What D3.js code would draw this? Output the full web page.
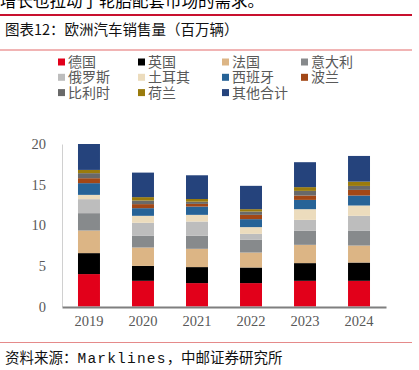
<!DOCTYPE html>
<html><head><meta charset="utf-8">
<script src="https://cdn.jsdelivr.net/npm/d3@7"></script>
<style>
html,body{margin:0;padding:0;background:#fff;}
svg{display:block;}
</style></head>
<body>
<svg id="c" width="419" height="370"></svg>
<script>
const years = ["2019","2020","2021","2022","2023","2024"];
const seriesNames = ["德国","英国","法国","意大利","俄罗斯","土耳其","西班牙","波兰","比利时","荷兰","其他合计"];
const seriesColors = ["#e2001a","#000000","#dcb585","#878a8c","#bdbdbd","#ecdcbd","#276397","#a24716","#696969","#9a7b0c","#25437c"];
const germany = [3.99, 3.16, 2.88, 2.88, 3.16, 3.16];
const uk      = [2.58, 1.84, 1.97, 1.92, 2.18, 2.25];
const france  = [2.78, 2.26, 2.25, 1.84, 2.25, 2.09];
const italy   = [2.14, 1.47, 1.60, 1.56, 1.72, 1.85];
const russia  = [1.72, 1.57, 1.76, 0.74, 1.35, 1.81];
const turkey  = [0.53, 0.86, 0.82, 0.83, 1.32, 1.27];
const spain   = [1.44, 0.94, 1.02, 0.98, 1.14, 1.23];
const poland  = [0.61, 0.50, 0.33, 0.53, 0.54, 0.69];
const belgium = [0.62, 0.44, 0.27, 0.41, 0.57, 0.49];
const netherlands = [0.40, 0.42, 0.33, 0.29, 0.46, 0.53];
const others  = [3.19, 3.02, 2.92, 2.87, 3.07, 3.16];
const yTicks = [0, 5, 10, 15, 20];

const seriesValues = [germany, uk, france, italy, russia, turkey, spain, poland, belgium, netherlands, others];
const rows = years.map((y, i) => {
  const r = {year: y};
  seriesNames.forEach((n, k) => r[n] = seriesValues[k][i]);
  return r;
});

const svg = d3.select("#c");
const cjk = "'Noto Sans CJK SC','Noto Sans',sans-serif";

// top cropped sentence (cut off in the reference as well)
svg.append("text").attr("x", 0).attr("y", 7).attr("font-family", cjk)
  .attr("font-size", 16.5).attr("fill", "#000").text("增长也拉动了轮胎配套市场的需求。");
// red rules
svg.append("rect").attr("x", 0).attr("y", 14).attr("width", 412).attr("height", 2).attr("fill", "#c8102e");
svg.append("text").attr("x", 5).attr("y", 34.5).attr("font-family", cjk)
  .attr("font-size", 14.5).attr("fill", "#111").text("图表12：欧洲汽车销售量（百万辆）");
svg.append("rect").attr("x", 0).attr("y", 49.5).attr("width", 412).attr("height", 1).attr("fill", "#e36a6a");

// legend
const legCols = [58, 138, 222, 301];
const legRows = [62, 77.3, 92.6];
seriesNames.forEach((n, k) => {
  const cx = legCols[k % 4], cy = legRows[Math.floor(k / 4)];
  svg.append("rect").attr("x", cx).attr("y", cy - 3.5).attr("width", 7).attr("height", 7).attr("fill", seriesColors[k]);
  svg.append("text").attr("x", cx + 10).attr("y", cy).attr("dy", "0.36em")
    .attr("font-family", cjk).attr("font-size", 14).attr("fill", "#595959").text(n);
});

const x = d3.scaleBand().domain(years).range([62, 386]).paddingInner(0.593).paddingOuter(0.296);
const y = d3.scaleLinear().domain([0, 20]).range([306.5, 144]);

const stack = d3.stack().keys(seriesNames)(rows);
svg.append("g").selectAll("g").data(stack).join("g")
  .attr("fill", (d, i) => seriesColors[i])
  .selectAll("rect").data(d => d).join("rect")
  .attr("x", d => x(d.data.year)).attr("width", x.bandwidth())
  .attr("y", d => y(d[1])).attr("height", d => y(d[0]) - y(d[1]));

// y axis
const ya = svg.append("g").attr("transform", "translate(62,0)")
  .call(d3.axisLeft(y).tickValues(yTicks).tickSize(0).tickPadding(16));
ya.select(".domain").attr("stroke", "#d0d0d0").attr("stroke-width", 1);
ya.selectAll("text").attr("font-family", "'Liberation Serif',serif").attr("font-size", 14.5).attr("fill", "#595959");

// x axis
const xa = svg.append("g").attr("transform", "translate(0,307)")
  .call(d3.axisBottom(x).tickSize(0).tickPadding(9));
xa.select(".domain").attr("stroke", "#7f7f7f").attr("stroke-width", 2);
xa.selectAll("text").attr("font-family", "'Liberation Serif',serif").attr("font-size", 14.5).attr("fill", "#595959");

// source
svg.append("rect").attr("x", 0).attr("y", 342).attr("width", 412).attr("height", 1).attr("fill", "#e58a8a");
const src = svg.append("text").attr("x", 5).attr("y", 363).attr("font-family", cjk)
  .attr("font-size", 14.5).attr("fill", "#111");
src.append("tspan").text("资料来源：");
src.append("tspan").attr("font-family", "'Liberation Mono',monospace").attr("letter-spacing", 1.2).text("Marklines");
src.append("tspan").text("，中邮证券研究所");
</script>
</body></html>
